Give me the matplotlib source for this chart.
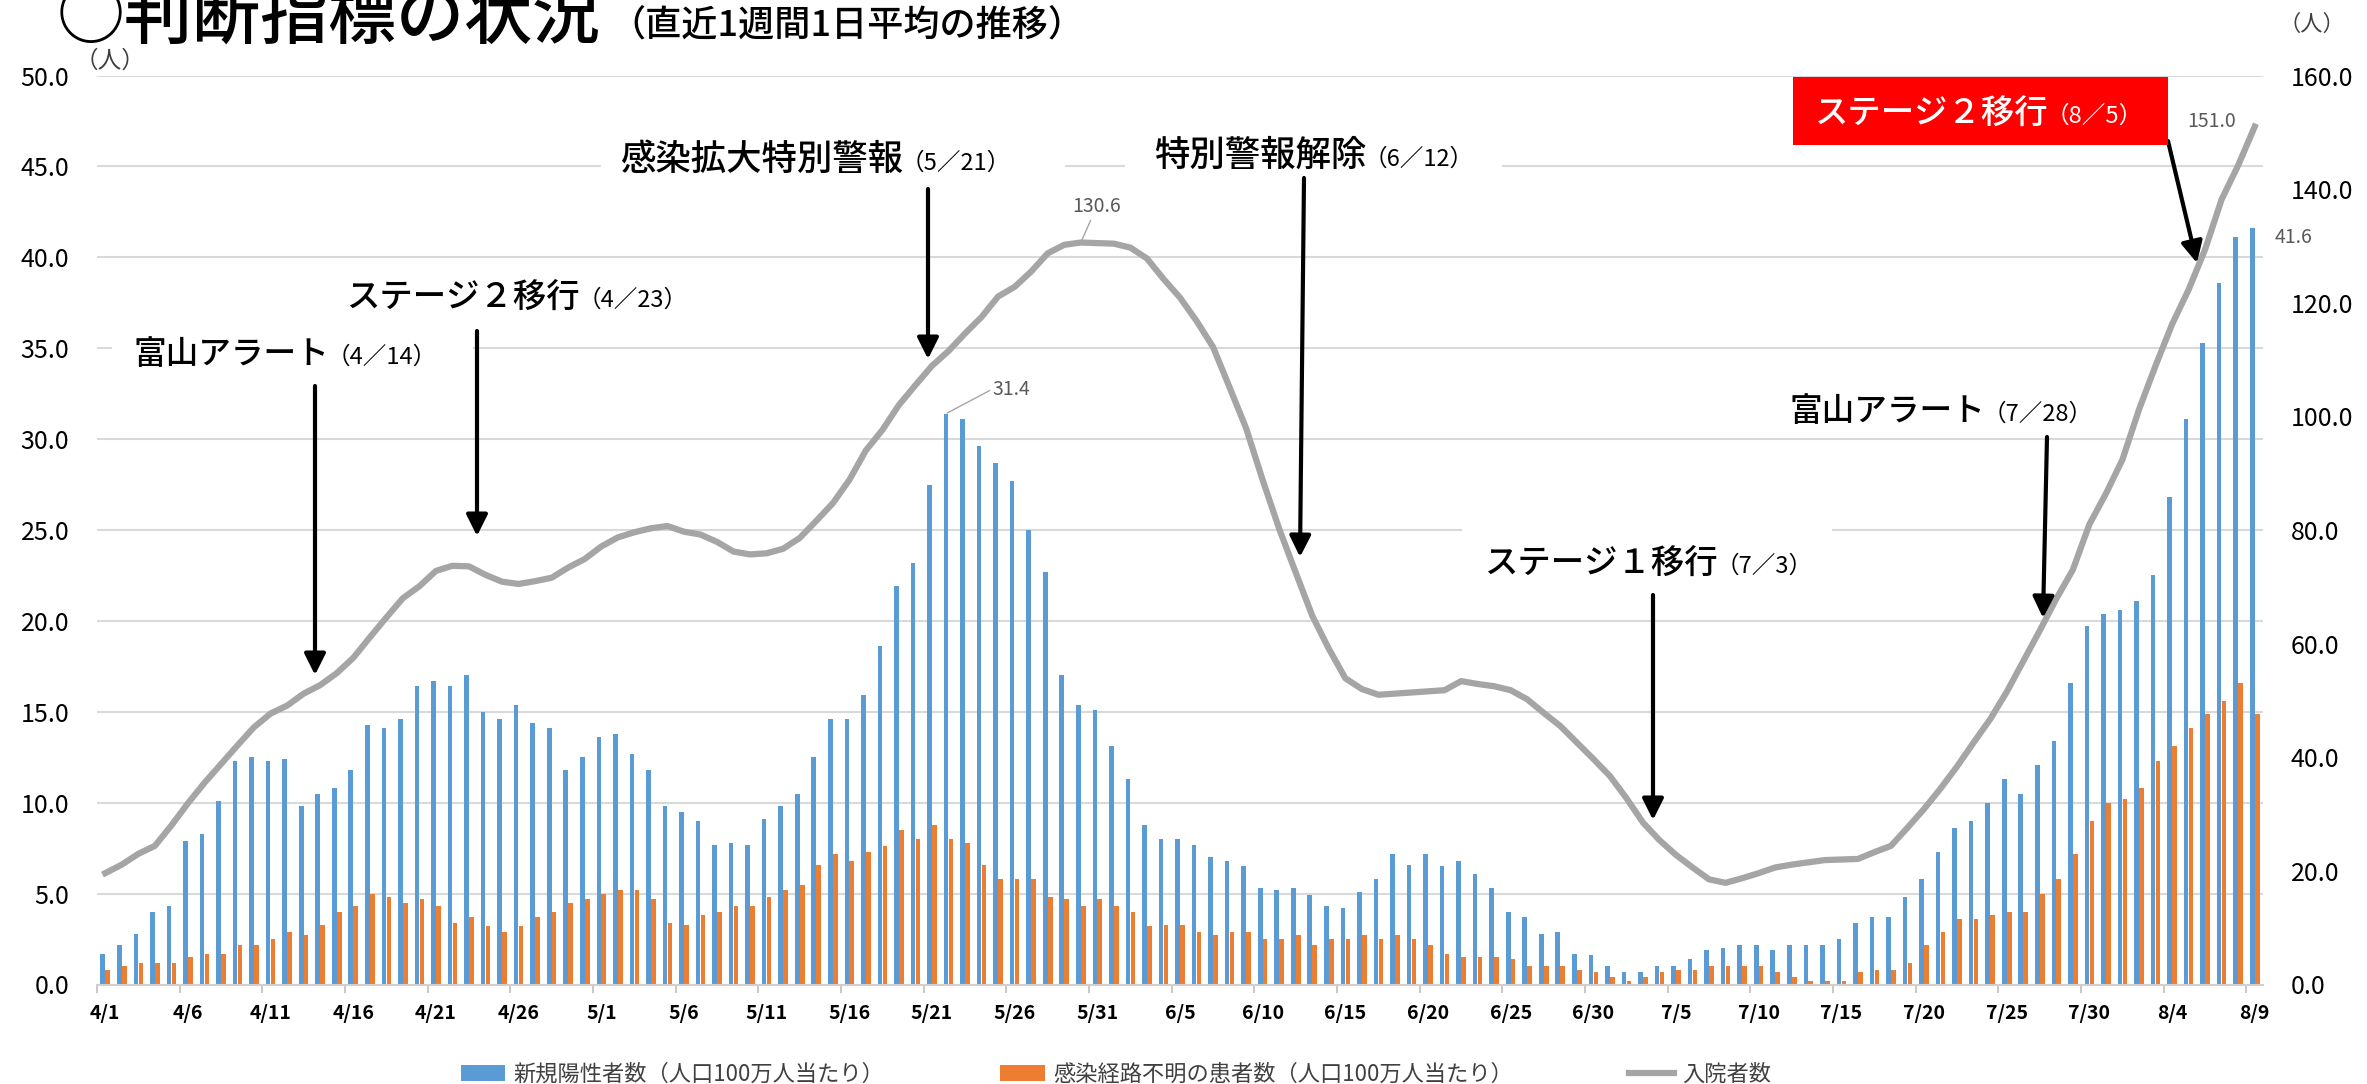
import numpy as np
import pandas as pd
import matplotlib
matplotlib.use('Agg')
import matplotlib.pyplot as plt
from matplotlib.patches import Rectangle
from matplotlib.ticker import FormatStrFormatter

plt.rcParams['font.family'] = ['Noto Sans CJK JP', 'DejaVu Sans']

# 4/1 - 8/9, one category per day
dates = pd.date_range('2021-04-01', '2021-08-09')
date_labels = [f'{d.month}/{d.day}' for d in dates]

# new positives per 1M people (7-day average)
new_pos = [
    1.7, 2.2, 2.8, 4.0, 4.3, 7.9, 8.3, 10.1, 12.3, 12.5, 12.3, 12.4, 9.8, 10.5, 10.8,
    11.8, 14.3, 14.1, 14.6, 16.4, 16.7, 16.4, 17.0, 15.0, 14.6, 15.4, 14.4, 14.1, 11.8, 12.5,
    13.6, 13.8, 12.7, 11.8, 9.8, 9.5, 9.0, 7.7, 7.8, 7.7, 9.1, 9.8, 10.5, 12.5, 14.6,
    14.6, 15.9, 18.6, 21.9, 23.2, 27.5, 31.4, 31.1, 29.6, 28.7, 27.7, 25.0, 22.7, 17.0, 15.4, 15.1,
    13.1, 11.3, 8.8, 8.0, 8.0, 7.7, 7.0, 6.8, 6.5, 5.3, 5.2, 5.3, 4.9, 4.3, 4.2,
    5.1, 5.8, 7.2, 6.6, 7.2, 6.5, 6.8, 6.1, 5.3, 4.0, 3.7, 2.8, 2.9, 1.7, 1.6,
    1.0, 0.7, 0.7, 1.0, 1.0, 1.4, 1.9, 2.0, 2.2, 2.2, 1.9, 2.2, 2.2, 2.2, 2.5,
    3.4, 3.7, 3.7, 4.8, 5.8, 7.3, 8.6, 9.0, 10.0, 11.3, 10.5, 12.1, 13.4, 16.6, 19.7, 20.4,
    20.6, 21.1, 22.5, 26.8, 31.1, 35.3, 38.6, 41.1, 41.6,
]

# unknown infection route per 1M people
unknown = [
    0.8, 1.0, 1.2, 1.2, 1.2, 1.5, 1.7, 1.7, 2.2, 2.2, 2.5, 2.9, 2.7, 3.3, 4.0,
    4.3, 5.0, 4.8, 4.5, 4.7, 4.3, 3.4, 3.7, 3.2, 2.9, 3.2, 3.7, 4.0, 4.5, 4.7,
    5.0, 5.2, 5.2, 4.7, 3.4, 3.3, 3.8, 4.0, 4.3, 4.3, 4.8, 5.2, 5.5, 6.6, 7.2,
    6.8, 7.3, 7.6, 8.5, 8.0, 8.8, 8.0, 7.8, 6.6, 5.8, 5.8, 5.8, 4.8, 4.7, 4.3, 4.7,
    4.3, 4.0, 3.2, 3.3, 3.3, 2.9, 2.7, 2.9, 2.9, 2.5, 2.5, 2.7, 2.2, 2.5, 2.5,
    2.7, 2.5, 2.7, 2.5, 2.2, 1.7, 1.5, 1.5, 1.5, 1.4, 1.0, 1.0, 1.0, 0.8, 0.7,
    0.4, 0.2, 0.4, 0.7, 0.8, 0.8, 1.0, 1.0, 1.0, 1.0, 0.7, 0.4, 0.2, 0.2, 0.2,
    0.7, 0.8, 0.8, 1.2, 2.2, 2.9, 3.6, 3.6, 3.8, 4.0, 4.0, 5.0, 5.8, 7.2, 9.0, 10.0,
    10.2, 10.8, 12.3, 13.1, 14.1, 14.9, 15.6, 16.6, 14.9,
]

# hospitalized (right axis)
hosp = [
    19.6, 21.1, 23.0, 24.4, 28.0, 31.9, 35.5, 38.8, 42.1, 45.3, 47.7, 49.1, 51.2, 52.7, 54.8,
    57.5, 61.1, 64.6, 68.0, 70.1, 72.8, 73.7, 73.6, 72.1, 70.9, 70.5, 71.0, 71.6, 73.4, 74.9,
    77.1, 78.7, 79.6, 80.3, 80.7, 79.7, 79.2, 77.9, 76.2, 75.7, 75.9, 76.7, 78.6, 81.6, 84.7,
    88.8, 94.0, 97.6, 102.0, 105.5, 108.9, 111.5, 114.6, 117.5, 121.1, 122.8, 125.5, 128.7, 130.2, 130.6, 130.5,
    130.4, 129.7, 127.8, 124.2, 120.9, 116.8, 112.2, 105.1, 97.9, 88.8, 80.2, 72.5, 64.9, 59.1, 53.9,
    52.0, 51.0, 51.2, 51.4, 51.6, 51.8, 53.4, 52.9, 52.5, 51.8, 50.2, 47.8, 45.5, 42.6, 39.7,
    36.7, 32.8, 28.5, 25.4, 22.8, 20.6, 18.5, 17.9, 18.7, 19.6, 20.6, 21.1, 21.5, 21.9, 22.0,
    22.1, 23.3, 24.4, 27.6, 30.9, 34.5, 38.4, 42.6, 46.7, 51.5, 56.9, 62.3, 67.9, 73.0, 81.0, 86.4,
    92.4, 101.2, 108.9, 116.2, 122.3, 129.4, 138.2, 144.2, 151.0,
]

legend_labels = ['新規陽性者数（人口100万人当たり）', '感染経路不明の患者数（人口100万人当たり）', '入院者数']

BLUE = '#5B9BD5'
ORANGE = '#ED7D31'
GRAY = '#A5A5A5'

W, H = 2367, 1084


def fp(px, py):
    # reference pixel -> figure fraction
    return (px / W, 1 - py / H)


def fig_rect(x0, y0, x1, y1, color, z):
    fig.patches.append(Rectangle(fp(x0, y1), (x1 - x0) / W, (y1 - y0) / H,
                                 transform=fig.transFigure, facecolor=color, edgecolor='none', zorder=z))


fig = plt.figure(figsize=(W / 100, H / 100), dpi=100)
ax = fig.add_axes([97 / W, 1 - 984.5 / H, (2263 - 97) / W, (984.5 - 75.5) / H])

x = np.arange(len(dates))
b1 = ax.bar(x - 0.15, new_pos, width=0.28, color=BLUE, zorder=2)
b2 = ax.bar(x + 0.15, unknown, width=0.28, color=ORANGE, zorder=2)

ax.set_xlim(-0.5, len(dates) - 0.5)
ax.set_ylim(0, 50)
ax.set_yticks(np.arange(0, 50.1, 5))
ax.yaxis.set_major_formatter(FormatStrFormatter('%.1f'))
ax.grid(axis='y', color='#d9d9d9', lw=1.5, zorder=0)
ax.set_axisbelow(True)
for s in ['top', 'left', 'right']:
    ax.spines[s].set_visible(False)
ax.spines['bottom'].set_color('#d0d0d0')
ax.spines['bottom'].set_linewidth(1.5)

ax.set_xticks(x[::5])
ax.set_xticklabels(date_labels[::5], fontsize=14, fontweight='bold')
ax.set_xticks(np.arange(-0.5, len(dates), 5), minor=True)
ax.tick_params(axis='x', which='major', length=0, pad=14)
ax.tick_params(axis='x', which='minor', length=5.5, width=1.2, color='#bfbfbf')
ax.tick_params(axis='y', length=0, pad=20, labelsize=18)

ax2 = ax.twinx()
ln, = ax2.plot(x, hosp, color=GRAY, lw=4.5, solid_joinstyle='round')
ax2.set_ylim(0, 160)
ax2.set_yticks(np.arange(0, 160.1, 20))
ax2.yaxis.set_major_formatter(FormatStrFormatter('%.1f'))
ax2.tick_params(axis='y', length=0, pad=20, labelsize=18)
for s in ax2.spines.values():
    s.set_visible(False)

# unit labels
fig.text(*fp(110, 61), '（人）', fontsize=17, color='#404040', ha='center', va='center')
fig.text(*fp(2312, 24), '（人）', fontsize=16, color='#404040', ha='center', va='center')

# data labels
p1 = int(np.argmax(hosp[:100]))
ax2.annotate(f'{hosp[p1]:.1f}', xy=(p1, hosp[p1]), xytext=(11.5, 25.6), textcoords='offset points',
             ha='center', va='center', fontsize=14, color='#595959',
             arrowprops=dict(arrowstyle='-', color='#a6a6a6', lw=1, shrinkA=0, shrinkB=1, relpos=(0.4, 0)))
q1 = int(np.argmax(new_pos[:100]))
ax.annotate(f'{new_pos[q1]:.1f}', xy=(q1 - 0.15, new_pos[q1]), xytext=(47, 17.7), textcoords='offset points',
            ha='center', va='center', fontsize=14, color='#595959',
            arrowprops=dict(arrowstyle='-', color='#a6a6a6', lw=1, shrinkA=0, shrinkB=1, relpos=(0, 0.5)))
ax2.annotate(f'{hosp[-1]:.1f}', xy=(x[-1], hosp[-1]), xytext=(-30.7, 3.5), textcoords='offset points',
             ha='center', va='center', fontsize=14, color='#595959')
ax.annotate(f'{new_pos[-1]:.1f}', xy=(x[-1] - 0.15, new_pos[-1]), xytext=(30, -7), textcoords='offset points',
            ha='center', va='center', fontsize=14, color='#595959', annotation_clip=False)

# white text boxes that hide the gridlines behind some event labels
fig_rect(112, 330, 473, 378, 'white', 1)
fig_rect(601, 135, 1065, 183, 'white', 1)
fig_rect(1125, 130, 1502, 176, 'white', 1)
fig_rect(1462, 528, 1832, 590, 'white', 1)
# red box for 8/5
fig_rect(1793, 77, 2168, 145, '#ff0000', 1)


def event(split_x, base_y, main, sub, size_main, size_sub=17, color='black'):
    fig.text(*fp(split_x, base_y), main, ha='right', va='baseline', fontsize=size_main,
             color=color, fontweight='medium', zorder=5)
    fig.text(*fp(split_x - 2, base_y), sub, ha='left', va='baseline', fontsize=size_sub,
             color=color, zorder=5)


def arrow(tail, tip):
    ax2.annotate('', xy=fp(*tip), xytext=fp(*tail), xycoords='figure fraction', textcoords='figure fraction',
                 arrowprops=dict(arrowstyle='-|>,head_length=0.8,head_width=0.4', mutation_scale=16,
                                 lw=3, color='black', shrinkA=0, shrinkB=0))


event(329, 364, '富山アラート', '（4／14）', 23.5)
arrow((315, 386), (315, 675))
event(580, 307, 'ステージ２移行', '（4／23）', 24)
arrow((477, 331), (477, 536))
event(903, 170, '感染拡大特別警報', '（5／21）', 25.5)
arrow((928, 189), (928, 359))
event(1366, 166, '特別警報解除', '（6／12）', 25.5)
arrow((1304, 178), (1300, 557))
event(1718, 573, 'ステージ１移行', '（7／3）', 24)
arrow((1653, 595), (1653, 820))
event(1985, 421, '富山アラート', '（7／28）', 23.5)
arrow((2047, 437), (2043, 618))
event(2048, 123, 'ステージ２移行', '（8／5）', 24, color='white')
arrow((2168, 141), (2197, 263))

# title (top is cut off in the original)
fig.text(*fp(57, 38), '○判断指標の状況', fontsize=49, ha='left', va='baseline', fontweight='medium')
fig.text(*fp(609, 36), '（直近1週間1日平均の推移）', fontsize=26, ha='left', va='baseline', fontweight='medium')

fig.legend([b1, b2, ln], legend_labels, loc='center', bbox_to_anchor=fp(1116, 1074), ncol=3,
           frameon=False, fontsize=16, columnspacing=5.2, handlelength=2.0, handletextpad=0.4,
           labelcolor='#404040')

fig.savefig('out.png', dpi=100)
